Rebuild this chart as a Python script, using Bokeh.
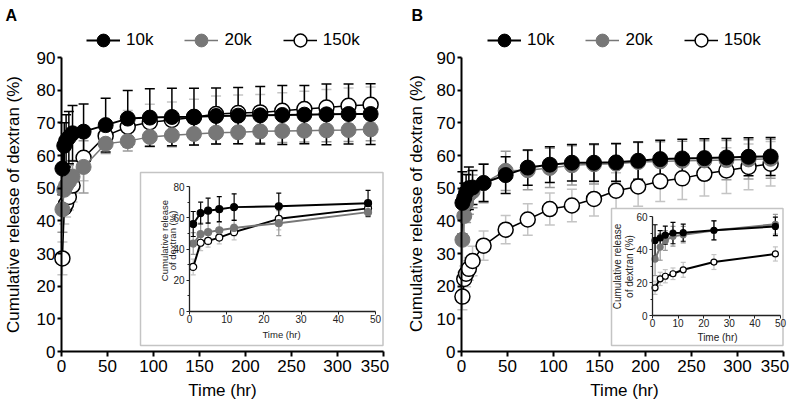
import numpy as np
from bokeh.plotting import figure
from bokeh.models import (Range1d, LinearAxis, FixedTicker, Legend, LegendItem,
                          Label, ColumnDataSource)
from bokeh.layouts import row
from bokeh.embed import file_html
from bokeh.resources import INLINE

# ---------------- data ----------------
TIME = [1, 3, 5, 8, 12, 24, 48, 72, 96, 120, 144, 168, 192, 216, 240, 264, 288, 312, 336]
SERIES = ["10k", "20k", "150k"]

A_10K = [56.0, 63.0, 64.5, 65.5, 66.8, 67.3, 69.3, 71.3, 71.6, 71.8, 71.9, 72.1, 72.2, 72.3, 72.4, 72.5, 72.6, 72.7, 72.7]
A_20K = [43.5, 49.5, 50.8, 52.0, 53.5, 56.5, 63.6, 64.4, 65.7, 66.2, 66.6, 67.0, 67.1, 67.4, 67.5, 67.6, 67.7, 67.8, 68.0]
A_150K = [28.5, 44.0, 45.2, 47.3, 50.8, 59.3, 66.0, 68.8, 70.2, 70.9, 71.7, 72.7, 73.0, 73.2, 73.7, 74.2, 74.7, 75.2, 75.5]
A_10K_SD = [8.0, 7.0, 8.0, 8.0, 8.5, 8.5, 8.2, 8.6, 8.8, 8.8, 8.7, 8.6, 8.6, 8.8, 9.0, 8.9, 9.3, 9.2, 9.3]
A_20K_SD = [7.0, 7.0, 6.0, 5.0, 5.0, 8.0, 3.0, 3.0, 3.0, 3.5, 3.5, 3.5, 3.5, 3.5, 3.5, 3.5, 3.5, 3.5, 3.5]
A_150K_SD = [5.0, 5.0, 4.0, 4.0, 5.0, 7.0, 4.0, 5.0, 5.5, 5.5, 5.5, 5.5, 5.5, 5.5, 5.5, 5.5, 5.5, 5.5, 5.5]

B_10K = [45.5, 47.0, 48.7, 50.0, 50.2, 51.6, 54.0, 56.3, 57.2, 57.8, 57.8, 57.9, 58.4, 58.9, 59.1, 59.2, 59.4, 59.6, 59.7]
B_20K = [34.2, 41.5, 45.5, 48.0, 49.0, 51.5, 55.3, 55.5, 56.2, 57.0, 57.3, 57.5, 58.0, 58.2, 58.4, 58.5, 58.6, 58.8, 59.0]
B_150K = [16.8, 22.2, 23.8, 25.3, 27.7, 32.4, 37.3, 40.4, 43.6, 44.7, 46.7, 49.2, 50.5, 52.1, 53.0, 54.4, 55.4, 56.5, 57.5]
B_10K_SD = [9.5, 4.5, 5.5, 6.5, 5.2, 5.7, 5.6, 5.4, 5.5, 5.6, 5.7, 5.8, 5.7, 5.8, 5.9, 5.9, 5.8, 5.8, 5.8]
B_20K_SD = [10.0, 8.0, 6.0, 6.0, 5.0, 6.0, 6.0, 6.0, 6.0, 6.0, 6.0, 6.0, 6.0, 6.0, 6.0, 6.0, 6.0, 6.0, 6.0]
B_150K_SD = [4.0, 4.0, 4.0, 3.5, 4.5, 4.5, 4.3, 4.8, 4.9, 5.0, 5.2, 5.5, 6.0, 6.2, 6.5, 6.8, 7.0, 7.0, 6.8]

X_TICKS = [0, 50, 100, 150, 200, 250, 300, 350]
Y_TICKS = [0, 10, 20, 30, 40, 50, 60, 70, 80, 90]
INSET_X_TICKS = [0, 10, 20, 30, 40, 50]
INSET_A_Y_TICKS = [0, 20, 40, 60, 80]
INSET_B_Y_TICKS = [0, 20, 40, 60]
INSET_MAX_TIME = 48

X_LABEL = "Time (hr)"
Y_LABEL = "Cumulative release of dextran (%)"
INSET_Y_LABEL = ["Cumulative release", "of dextran (%)"]

# ---------------- styling / layout (page pixels) ----------------
FONT = "Liberation Sans"
FIG_W, FIG_H, PAGE = 400, 407, 0

STYLE = {
    "10k": dict(line="black", fill="black", bar="black", lw=2.0, mlw=1.0),
    "20k": dict(line="#777777", fill="#777777", bar="#9a9a9a", lw=1.5, mlw=1.0),
    "150k": dict(line="black", fill="white", bar="#c4c4c4", lw=1.5, mlw=1.5),
}
DRAW_ORDER = ["150k", "20k", "10k"]

PANELS = [
    dict(letter="A", fig_left=0, axes_px=(61, 383, 351, 57), letter_px=(5, 6),
         legend_px=(86, 24), xlab_px=(222, 380), ylab_px=(13, 204),
         inset_px=(189, 375, 311, 186), inset_yticks=INSET_A_Y_TICKS,
         inset_box=(140, 382.5, 172, 345), inset_msize=7, inset_title_font="9.5px",
         inset_xlab=(281, 334), inset_ylab=(163.5, 171.5, 240),
         data={"10k": (A_10K, A_10K_SD), "20k": (A_20K, A_20K_SD), "150k": (A_150K, A_150K_SD)}),
    dict(letter="B", fig_left=400, axes_px=(461, 783, 351, 57), letter_px=(411, 6),
         legend_px=(487, 24), xlab_px=(624, 380), ylab_px=(416, 203),
         inset_px=(652, 780, 315, 216), inset_yticks=INSET_B_Y_TICKS,
         inset_box=(611, 782.5, 208, 345), inset_msize=6, inset_title_font="10px",
         inset_xlab=(717, 337), inset_ylab=(617, 628.5, 266),
         data={"10k": (B_10K, B_10K_SD), "20k": (B_20K, B_20K_SD), "150k": (B_150K, B_150K_SD)}),
]


class Mapper:
    """Maps page pixels to values for an axis system pinned at two pixel positions."""
    def __init__(self, p0, v0, p1, v1):
        self.p0, self.v0, self.k = p0, v0, (v1 - v0) / (p1 - p0)

    def __call__(self, px):
        return self.v0 + (px - self.p0) * self.k

    def range(self, a, b):
        return Range1d(self(a), self(b))


def make_panel(spec):
    fl = spec["fig_left"]
    FL, FR, FT, FB = fl, fl + FIG_W, PAGE, PAGE + FIG_H   # frame == whole figure
    L, R, B, T = spec["axes_px"]
    mx = Mapper(L, X_TICKS[0], R, X_TICKS[-1])
    my = Mapper(B, Y_TICKS[0], T, Y_TICKS[-1])

    p = figure(width=FIG_W, height=FIG_H, x_range=mx.range(FL, FR), y_range=my.range(FB, FT),
               output_backend="svg", toolbar_location=None, min_border=0)
    p.grid.visible = False
    p.outline_line_color = None

    # main axes drawn at fixed locations inside the frame
    for ax in (p.xaxis[0], p.yaxis[0]):
        ax.fixed_location = 0
        ax.axis_line_width = 2
        ax.axis_line_color = "black"
        ax.major_tick_line_width = 2
        ax.major_tick_in = 0
        ax.minor_tick_line_color = None
        ax.major_label_text_font = FONT
        ax.major_label_text_font_size = "17px"
        ax.major_label_text_color = "black"
    p.xaxis.major_tick_out = 5
    p.yaxis.major_tick_out = 4
    p.xaxis.ticker = FixedTicker(ticks=X_TICKS)
    p.yaxis.ticker = FixedTicker(ticks=Y_TICKS)
    p.xaxis.bounds = (X_TICKS[0], X_TICKS[-1])
    p.yaxis.bounds = (Y_TICKS[0], Y_TICKS[-1])
    p.xaxis.major_label_standoff = 3
    p.yaxis.major_label_standoff = 2
    p.xaxis.major_label_overrides = {X_TICKS[-1]: ""}

    # last x tick label drawn slightly inward (as in the original)
    lx = Mapper(L - 8.5, X_TICKS[0], R - 8.5, X_TICKS[-1])
    p.extra_x_ranges["lastlab"] = lx.range(FL, FR)
    last_ax = LinearAxis(x_range_name="lastlab", fixed_location=0,
                         ticker=FixedTicker(ticks=[X_TICKS[-1]]),
                         axis_line_color=None, major_tick_line_color=None,
                         minor_tick_line_color=None, major_tick_out=5, major_tick_in=0,
                         major_label_standoff=3, major_label_text_font=FONT,
                         major_label_text_font_size="17px", major_label_text_color="black")
    p.add_layout(last_ax, "below")

    # axis titles
    xlx, xly = spec["xlab_px"]
    p.add_layout(Label(x=mx(xlx), y=my(xly), text=X_LABEL, text_align="center",
                       text_baseline="top", text_font=FONT, text_font_size="17px",
                       text_color="black"))
    ylx, yly = spec["ylab_px"]
    p.add_layout(Label(x=mx(ylx), y=my(yly), text=Y_LABEL, angle=np.pi / 2,
                       text_align="center", text_baseline="middle", text_font=FONT,
                       text_font_size="17px", text_color="black"))

    # ---- main series ----
    sources = {}
    for name in SERIES:
        vals, sds = spec["data"][name]
        v = np.array(vals)
        s = np.array(sds)
        sources[name] = dict(t=list(TIME), v=list(v), lo=list(v - s), hi=list(v + s))

    for name in DRAW_ORDER:
        st = STYLE[name]
        src = ColumnDataSource(sources[name])
        p.segment("t", "lo", "t", "hi", source=src, line_color=st["bar"], line_width=1.5)
        p.scatter("t", "lo", source=src, marker="dash", size=10, line_color=st["bar"], line_width=1.5)
        p.scatter("t", "hi", source=src, marker="dash", size=10, line_color=st["bar"], line_width=1.5)

    lines, marks = {}, {}
    for name in DRAW_ORDER:
        st = STYLE[name]
        src = ColumnDataSource(sources[name])
        lines[name] = p.line("t", "v", source=src, line_color=st["line"], line_width=st["lw"])
        marks[name] = p.scatter("t", "v", source=src, marker="circle", size=15,
                                fill_color=st["fill"], line_color=st["line"], line_width=st["mlw"])

    lgx, lgy = spec["legend_px"]
    legend = Legend(items=[LegendItem(label=n, renderers=[lines[n], marks[n]]) for n in SERIES],
                    orientation="horizontal", location=(lgx - FL, FB - lgy - 32),
                    glyph_width=34, glyph_height=32, label_standoff=6, spacing=31,
                    padding=0, margin=0, border_line_color=None, background_fill_alpha=0,
                    label_text_font=FONT, label_text_font_size="17px", label_text_color="black")
    p.add_layout(legend)

    # ---- inset ----
    ix0, ix1, iy0, iy1 = spec["inset_px"]
    yt = spec["inset_yticks"]
    ix = Mapper(ix0, INSET_X_TICKS[0], ix1, INSET_X_TICKS[-1])
    iy = Mapper(iy0, yt[0], iy1, yt[-1])
    p.extra_x_ranges["ix"] = ix.range(FL, FR)
    p.extra_y_ranges["iy"] = iy.range(FB, FT)

    bl, br, bt, bb = spec["inset_box"]
    p.quad(left=[mx(bl)], right=[mx(br)], top=[my(bt)], bottom=[my(bb)],
           fill_color="white", line_color="#c4c4c4", line_width=1.5)

    n_in = sum(1 for t in TIME if t <= INSET_MAX_TIME)
    rn = dict(x_range_name="ix", y_range_name="iy")
    for name in DRAW_ORDER:
        st = STYLE[name]
        src = ColumnDataSource({k: v[:n_in] for k, v in sources[name].items()})
        p.segment("t", "lo", "t", "hi", source=src, line_color=st["bar"], line_width=1.2, **rn)
        p.scatter("t", "lo", source=src, marker="dash", size=5, line_color=st["bar"], line_width=1.2, **rn)
        p.scatter("t", "hi", source=src, marker="dash", size=5, line_color=st["bar"], line_width=1.2, **rn)
    for name in DRAW_ORDER:
        st = STYLE[name]
        src = ColumnDataSource({k: v[:n_in] for k, v in sources[name].items()})
        p.line("t", "v", source=src, line_color=st["line"], line_width=2, **rn)
        p.scatter("t", "v", source=src, marker="circle", size=spec["inset_msize"],
                  fill_color=st["fill"], line_color=st["line"], line_width=1.2, **rn)

    iax = LinearAxis(x_range_name="ix", y_range_name="iy", fixed_location=0,
                     bounds=(INSET_X_TICKS[0], INSET_X_TICKS[-1]),
                     ticker=FixedTicker(ticks=INSET_X_TICKS),
                     axis_line_color="#222222", axis_line_width=1.3,
                     major_tick_line_color="#222222", major_tick_out=3, major_tick_in=0,
                     minor_tick_line_color=None, major_label_standoff=0,
                     major_label_text_font=FONT, major_label_text_font_size="10px",
                     major_label_text_color="#222222")
    p.add_layout(iax, "below")
    minor = [a + (yt[1] - yt[0]) / 2 for a in yt[:-1]]
    iay = LinearAxis(x_range_name="ix", y_range_name="iy", fixed_location=0,
                     bounds=(yt[0], yt[-1]),
                     ticker=FixedTicker(ticks=yt, minor_ticks=minor),
                     axis_line_color="#222222", axis_line_width=1.3,
                     major_tick_line_color="#222222", major_tick_out=3, major_tick_in=0,
                     minor_tick_line_color="#222222", minor_tick_out=2, minor_tick_in=0,
                     major_label_standoff=2,
                     major_label_text_font=FONT, major_label_text_font_size="10px",
                     major_label_text_color="#222222")
    p.add_layout(iay, "left")

    tx, ty = spec["inset_xlab"]
    p.add_layout(Label(x=ix(tx), y=iy(ty), text=X_LABEL, text_align="center",
                       text_baseline="middle", text_font=FONT,
                       text_font_size=spec["inset_title_font"], text_color="#222222", **rn))
    lx1, lx2, lyc = spec["inset_ylab"]
    for lxp, txt in zip((lx1, lx2), INSET_Y_LABEL):
        p.add_layout(Label(x=ix(lxp), y=iy(lyc), text=txt, angle=np.pi / 2,
                           text_align="center", text_baseline="middle", text_font=FONT,
                           text_font_size=spec["inset_title_font"], text_color="#222222", **rn))

    # panel letter
    ltx, lty = spec["letter_px"]
    p.add_layout(Label(x=mx(ltx), y=my(lty), text=spec["letter"], text_align="left",
                       text_baseline="top", text_font=FONT, text_font_size="16px",
                       text_font_style="bold", text_color="black"))
    return p


figs = [make_panel(s) for s in PANELS]
layout = row(*figs, spacing=0)
open("out.html", "w").write(file_html(layout, INLINE))
